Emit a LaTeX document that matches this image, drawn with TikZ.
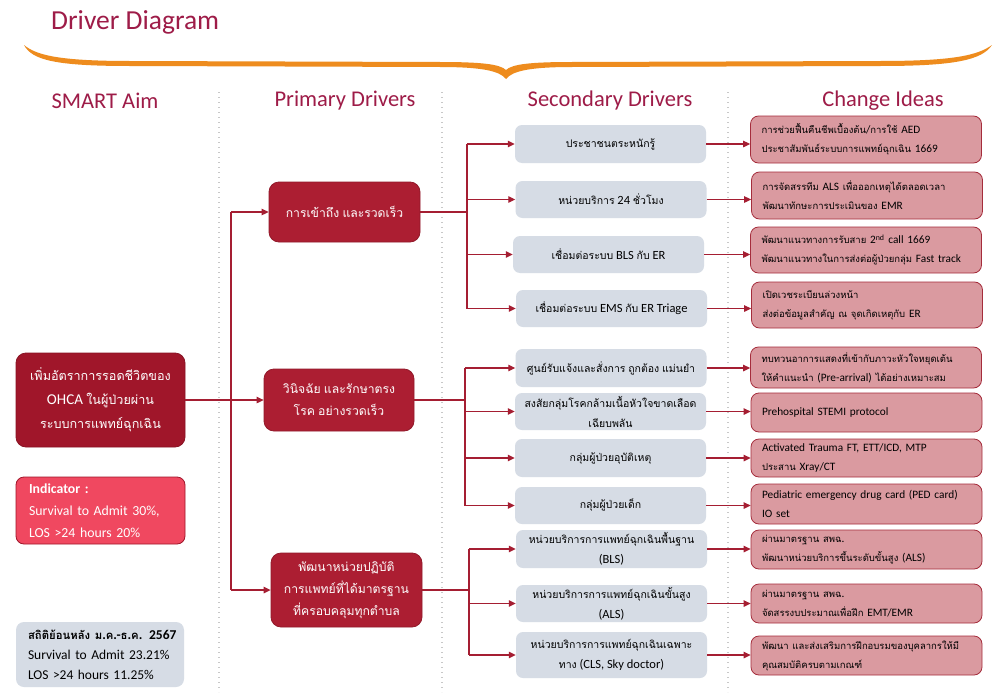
\documentclass[tikz,border=0pt]{standalone}
\usepackage{fontspec}
\setmainfont{Carlito}
\newfontfamily\thaifont[Script=Thai,Scale=0.84]{Loma}
\newfontfamily\latinfont{Carlito}
\usetikzlibrary{arrows.meta}
\XeTeXinterchartokenstate=1
\newXeTeXintercharclass\ThaiClass
\newcount\tcnt
\tcnt="0E00
\loop \XeTeXcharclass\tcnt=\ThaiClass \ifnum\tcnt<"0E7F \advance\tcnt by 1 \repeat
\XeTeXinterchartoks 0 \ThaiClass = {\thaifont}
\XeTeXinterchartoks 4095 \ThaiClass = {\thaifont}
\XeTeXinterchartoks \ThaiClass 0 = {\latinfont}
\XeTeXinterchartoks \ThaiClass 4095 = {\latinfont}
\definecolor{aimred}{RGB}{160,22,42}
\definecolor{prired}{RGB}{172,30,50}
\definecolor{indred}{RGB}{240,72,96}
\definecolor{grayfill}{RGB}{214,220,229}
\definecolor{pinkfill}{RGB}{218,154,160}
\definecolor{pinkline}{RGB}{165,45,60}
\definecolor{arrcol}{RGB}{165,30,50}
\definecolor{headcol}{RGB}{158,28,72}
\definecolor{bracecol}{RGB}{238,140,30}
\definecolor{sepcol}{RGB}{200,200,200}
\tikzset{
  aimbox/.style={rounded corners=10pt, fill=aimred, draw=aimred!85!black, line width=0.8pt, text=white, align=center, font=\fontsize{15}{24}\selectfont, inner sep=0pt},
  pribox/.style={rounded corners=10pt, fill=prired, draw=prired!85!black, line width=0.8pt, text=white, align=center, font=\fontsize{14.5}{22}\selectfont, inner sep=0pt, minimum width=151pt},
  indbox/.style={rounded corners=8pt, fill=indred, draw=aimred, line width=0.8pt, text=white, align=left, font=\fontsize{13.8}{22}\selectfont, inner xsep=13pt, inner ysep=0pt, text width=143pt},
  statbox/.style={rounded corners=8pt, fill=grayfill, draw=none, text=black, align=left, font=\fontsize{13.5}{20}\selectfont, inner xsep=12pt, inner ysep=0pt, text width=144pt},
  secbox/.style={rounded corners=7pt, fill=grayfill, draw=none, text=black, align=center, font=\fontsize{12.5}{20}\selectfont, inner sep=0pt, minimum width=191pt},
  chbox/.style={rounded corners=8pt, fill=pinkfill, draw=pinkline, line width=0.8pt, text=black, align=left, font=\fontsize{11.3}{19}\selectfont, inner xsep=11pt, inner ysep=0pt, text width=209pt},
  headtxt/.style={text=headcol, font=\fontsize{22.5}{26}\selectfont, inner sep=0pt},
  ln/.style={draw=arrcol, line width=1.3pt},
  arr/.style={draw=arrcol, line width=1.3pt, -{Triangle[length=7pt,width=6.5pt]}},
  sepline/.style={draw=sepcol, line width=1.4pt, dash pattern=on 1.4pt off 3.6pt}
}
\begin{document}
\begin{tikzpicture}[x=1pt,y=-1pt]
\useasboundingbox (0,0) rectangle (1004,696);
\fill[white] (0,0) rectangle (1004,696);
% title
\node[anchor=west, text=headcol, font=\fontsize{27.5}{30}\selectfont, inner sep=0pt] (title) at (51,22) {Driver Diagram};
% brace
\fill[bracecol] (24,45) .. controls (32,60) and (55,66) .. (130,66)
  -- (440,67) .. controls (482,67) and (500,71) .. (506,79)
  .. controls (512,71) and (530,67) .. (572,67)
  -- (880,66) .. controls (955,66) and (982,60) .. (992,45)
  .. controls (978,55) and (955,61) .. (880,61)
  -- (572,62) .. controls (532,62) and (512,64) .. (506,70)
  .. controls (500,64) and (480,62) .. (440,62)
  -- (130,61) .. controls (58,61) and (36,55) .. (24,45) -- cycle;
% separators
\draw[sepline] (219,92) -- (219,692);
\draw[sepline] (442,92) -- (442,692);
\draw[sepline] (728,92) -- (728,692);
% headers
\node[headtxt] (h1) at (105,101) {SMART Aim};
\node[headtxt] (h2) at (345,101) {Primary Drivers};
\node[headtxt] (h3) at (610,101) {Secondary Drivers};
\node[headtxt] (h4) at (883,101) {Change Ideas};
% left column
\node[aimbox, minimum width=169pt, minimum height=94pt] (aim) at (100.5,400) {เพิ่มอัตราการรอดชีวิตของ\\OHCA ในผู้ป่วยผ่าน\\ระบบการแพทย์ฉุกเฉิน};
\node[indbox, minimum height=67pt] (ind) at (100.5,510.5) {\textbf{Indicator :}\\Survival to Admit 30\%,\\LOS >24 hours 20\%};
\node[statbox, minimum height=65pt] (stat) at (100,654.5) {\mbox{\textbf{สถิติย้อนหลัง ม.ค.-ธ.ค. 2567}}\\Survival to Admit 23.21\%\\LOS >24 hours 11.25\%};
% primary
\node[pribox, minimum height=60pt] (p1) at (344.5,212) {การเข้าถึง และรวดเร็ว};
\node[pribox, minimum height=62pt, minimum width=150pt] (p2) at (339,400) {วินิจฉัย และรักษาตรง\\โรค อย่างรวดเร็ว};
\node[pribox, minimum height=74pt] (p3) at (346.5,590) {พัฒนาหน่วยปฏิบัติ\\การแพทย์ที่ได้มาตรฐาน\\ที่ครอบคลุมทุกตำบล};
% secondary
\node[secbox, minimum height=38pt] (s1) at (610.5,144) {ประชาชนตระหนักรู้};
\node[secbox, minimum height=37pt] (s2) at (611,199.5) {หน่วยบริการ 24 ชั่วโมง};
\node[secbox, minimum height=37pt] (s3) at (608.5,254.5) {เชื่อมต่อระบบ BLS กับ ER};
\node[secbox, minimum height=37pt] (s4) at (611.5,308.5) {เชื่อมต่อระบบ EMS กับ ER Triage};
\node[secbox, minimum height=38pt] (s5) at (611,368) {ศูนย์รับแจ้งและสั่งการ ถูกต้อง แม่นยำ};
\node[secbox, minimum height=37pt] (s6) at (610.5,411.5) {สงสัยกลุ่มโรคกล้ามเนื้อหัวใจขาดเลือด\\เฉียบพลัน};
\node[secbox, minimum height=38pt] (s7) at (610.5,458) {กลุ่มผู้ป่วยอุบัติเหตุ};
\node[secbox, minimum height=37pt] (s8) at (610.5,505.5) {กลุ่มผู้ป่วยเด็ก};
\node[secbox, minimum height=38pt] (s9) at (611.5,549) {หน่วยบริการการแพทย์ฉุกเฉินพื้นฐาน\\(BLS)};
\node[secbox, minimum height=37pt] (s10) at (611.5,603.5) {หน่วยบริการการแพทย์ฉุกเฉินขั้นสูง\\(ALS)};
\node[secbox, minimum height=46pt] (s11) at (611.5,655) {หน่วยบริการการแพทย์ฉุกเฉินเฉพาะ\\ทาง (CLS, Sky doctor)};
% change ideas
\node[chbox, minimum height=47pt] (c1) at (866,139.5) {การช่วยฟื้นคืนชีพเบื้องต้น/การใช้ AED\\ประชาสัมพันธ์ระบบการแพทย์ฉุกเฉิน 1669};
\node[chbox, minimum height=47pt] (c2) at (867,195.5) {การจัดสรรทีม ALS เพื่อออกเหตุได้ตลอดเวลา\\พัฒนาทักษะการประเมินของ EMR};
\node[chbox, minimum height=46pt] (c3) at (866,250) {พัฒนาแนวทางการรับสาย 2\textsuperscript{nd} call 1669\\พัฒนาแนวทางในการส่งต่อผู้ป่วยกลุ่ม Fast track};
\node[chbox, minimum height=46pt] (c4) at (867,305) {เปิดเวชระเบียนล่วงหน้า\\ส่งต่อข้อมูลสำคัญ ณ จุดเกิดเหตุกับ ER};
\node[chbox, minimum height=41pt] (c5) at (866,367.5) {ทบทวนอาการแสดงที่เข้ากับภาวะหัวใจหยุดเต้น\\ให้คำแนะนำ (Pre-arrival) ได้อย่างเหมาะสม};
\node[chbox, minimum height=39pt] (c6) at (866.5,412.5) {Prehospital STEMI protocol};
\node[chbox, minimum height=38pt] (c7) at (866.5,458) {Activated Trauma FT, ETT/ICD, MTP\\ประสาน Xray/CT};
\node[chbox, minimum height=40pt] (c8) at (866.5,504) {Pediatric emergency drug card (PED card)\\IO set};
\node[chbox, minimum height=39pt] (c9) at (866.5,549.5) {ผ่านมาตรฐาน สพฉ.\\พัฒนาหน่วยบริการขึ้นระดับขั้นสูง (ALS)};
\node[chbox, minimum height=39pt] (c10) at (866.5,603.5) {ผ่านมาตรฐาน สพฉ.\\จัดสรรงบประมาณเพื่อฝึก EMT/EMR};
\node[chbox, minimum height=39pt] (c11) at (866.5,655.5) {พัฒนา และส่งเสริมการฝึกอบรมของบุคลากรให้มี\\คุณสมบัติครบตามเกณฑ์};
% connectors aim -> primary
\coordinate (ta) at (231,0);
\draw[arr] (aim.east) -- (p2.west);
\draw[ln] (ta |- p1.west) -- (ta |- p3.west);
\draw[arr] (ta |- p1.west) -- (p1.west);
\draw[arr] (ta |- p3.west) -- (p3.west);
% primary -> secondary
\coordinate (tb) at (467,0);
\coordinate (tc) at (465,0);
\coordinate (td) at (469,0);
\draw[ln] (p1.east) -- (tb |- p1.east);
\draw[ln] (tb |- s1.west) -- (tb |- s4.west);
\foreach \s in {s1,s2,s3,s4} \draw[arr] (tb |- \s.west) -- (\s.west);
\draw[ln] (p2.east) -- (tc |- p2.east);
\draw[ln] (tc |- s5.west) -- (tc |- s8.west);
\foreach \s in {s5,s6,s7,s8} \draw[arr] (tc |- \s.west) -- (\s.west);
\draw[ln] (p3.east) -- (td |- p3.east);
\draw[ln] (td |- s9.west) -- (td |- s11.west);
\foreach \s in {s9,s10,s11} \draw[arr] (td |- \s.west) -- (\s.west);
% secondary -> change ideas
\foreach \s/\c in {s1/c1,s2/c2,s3/c3,s4/c4,s5/c5,s6/c6,s7/c7,s8/c8,s9/c9,s10/c10,s11/c11}
  \draw[arr] (\s.east) -- (\s.east -| \c.west);
\end{tikzpicture}
\end{document}
